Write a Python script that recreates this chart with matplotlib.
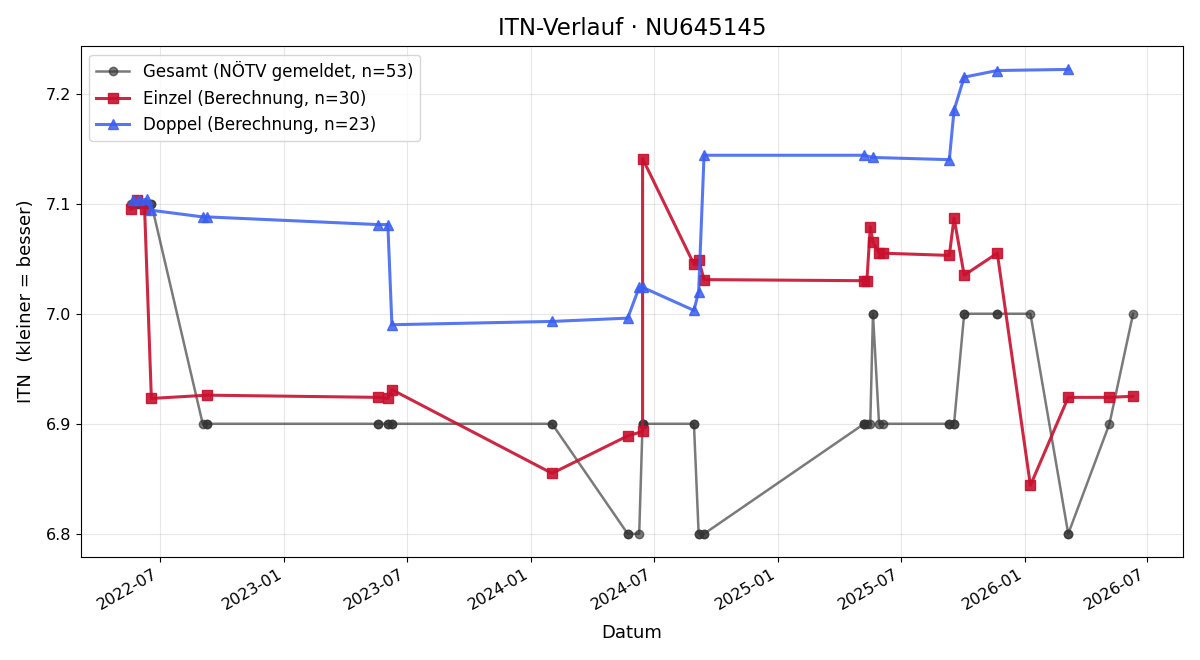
import pandas as pd
import matplotlib
matplotlib.use("Agg")
from matplotlib import pyplot as plt
import matplotlib.dates as mdates

# Einzel (singles) calculated ITN
EINZEL_DATES = ["2022-05-19", "2022-05-27", "2022-06-08", "2022-06-18", "2022-09-09",
                "2023-05-20", "2023-06-03", "2023-06-09", "2024-02-01", "2024-05-23",
                "2024-06-14", "2024-06-14", "2024-08-29", "2024-09-05", "2024-09-13",
                "2025-05-08", "2025-05-12", "2025-05-17", "2025-05-21", "2025-05-30",
                "2025-06-05", "2025-09-11", "2025-09-18", "2025-10-03", "2025-11-21",
                "2026-01-09", "2026-03-06", "2026-05-06", "2026-06-10"]
EINZEL_VALUES = [7.095, 7.103, 7.095, 6.923, 6.926,
                 6.924, 6.923, 6.931, 6.855, 6.889,
                 6.893, 7.141, 7.045, 7.049, 7.031,
                 7.030, 7.030, 7.079, 7.065, 7.055,
                 7.055, 7.053, 7.087, 7.035, 7.055,
                 6.844, 6.924, 6.924, 6.925]

# Doppel (doubles) calculated ITN
DOPPEL_DATES = ["2022-05-22", "2022-05-30", "2022-06-11", "2022-06-18", "2022-09-02",
                "2022-09-08", "2023-05-20", "2023-06-03", "2023-06-09", "2024-02-01",
                "2024-05-23", "2024-06-09", "2024-06-14", "2024-08-29", "2024-09-05",
                "2024-09-13", "2025-05-08", "2025-05-21", "2025-09-11", "2025-09-18",
                "2025-10-03", "2025-11-21", "2026-03-06"]
DOPPEL_VALUES = [7.103, 7.103, 7.104, 7.094, 7.088,
                 7.088, 7.081, 7.081, 6.990, 6.993,
                 6.996, 7.024, 7.024, 7.003, 7.020,
                 7.144, 7.144, 7.142, 7.140, 7.185,
                 7.215, 7.221, 7.222]

# Gesamt (reported by NOETV)
GESAMT_DATES = ["2022-05-19", "2022-05-22", "2022-05-27", "2022-05-30", "2022-06-08",
                "2022-06-11", "2022-06-18", "2022-06-18", "2022-09-02", "2022-09-08",
                "2022-09-09", "2023-05-20", "2023-05-20", "2023-06-03", "2023-06-03",
                "2023-06-09", "2023-06-09", "2024-02-01", "2024-02-01", "2024-05-23",
                "2024-05-23", "2024-06-09", "2024-06-14", "2024-06-14", "2024-06-14",
                "2024-08-29", "2024-08-29", "2024-09-05", "2024-09-05", "2024-09-13",
                "2024-09-13", "2025-05-08", "2025-05-08", "2025-05-08", "2025-05-12",
                "2025-05-17", "2025-05-21", "2025-05-21", "2025-05-30", "2025-06-05",
                "2025-09-11", "2025-09-11", "2025-09-18", "2025-09-18", "2025-10-03",
                "2025-10-03", "2025-11-21", "2025-11-21", "2026-01-09", "2026-03-06",
                "2026-03-06", "2026-05-06", "2026-06-10"]
GESAMT_VALUES = [7.1, 7.1, 7.1, 7.1, 7.1,
                 7.1, 7.1, 7.1, 6.9, 6.9,
                 6.9, 6.9, 6.9, 6.9, 6.9,
                 6.9, 6.9, 6.9, 6.9, 6.8,
                 6.8, 6.8, 6.9, 6.9, 6.9,
                 6.9, 6.9, 6.8, 6.8, 6.8,
                 6.8, 6.9, 6.9, 6.9, 6.9,
                 6.9, 7.0, 7.0, 6.9, 6.9,
                 6.9, 6.9, 6.9, 6.9, 7.0,
                 7.0, 7.0, 7.0, 7.0, 6.8,
                 6.8, 6.9, 7.0]

gesamt_x = pd.to_datetime(GESAMT_DATES)
einzel_x = pd.to_datetime(EINZEL_DATES)
doppel_x = pd.to_datetime(DOPPEL_DATES)

fig, ax = plt.subplots(figsize=(12, 6.6), dpi=100)

ax.plot(gesamt_x, GESAMT_VALUES, "o-", color="#333333", alpha=0.65,
        linewidth=1.8, markersize=6,
        label=f"Gesamt (NÖTV gemeldet, n={len(GESAMT_VALUES)})")
ax.plot(einzel_x, EINZEL_VALUES, "s-", color="#c8102e", alpha=0.9,
        linewidth=2.2, markersize=7,
        label="Einzel (Berechnung, n=30)")
ax.plot(doppel_x, DOPPEL_VALUES, "^-", color="#3a5ef0", alpha=0.85,
        linewidth=2.2, markersize=7,
        label=f"Doppel (Berechnung, n={len(DOPPEL_VALUES)})")

ax.set_title("ITN-Verlauf · NU645145", fontsize=16.5, pad=8)
ax.set_xlabel("Datum", fontsize=13, labelpad=8)
ax.set_ylabel("ITN  (kleiner = besser)", fontsize=13, labelpad=8)
ax.tick_params(labelsize=11.5)
ax.grid(True, alpha=0.3)
ax.xaxis.set_major_locator(mdates.MonthLocator(bymonth=[1, 7]))
ax.xaxis.set_major_formatter(mdates.DateFormatter("%Y-%m"))
ax.legend(loc="upper left", fontsize=12)
fig.autofmt_xdate()

fig.subplots_adjust(left=0.0675, right=0.986, top=0.930, bottom=0.156)
fig.savefig("out.png")
